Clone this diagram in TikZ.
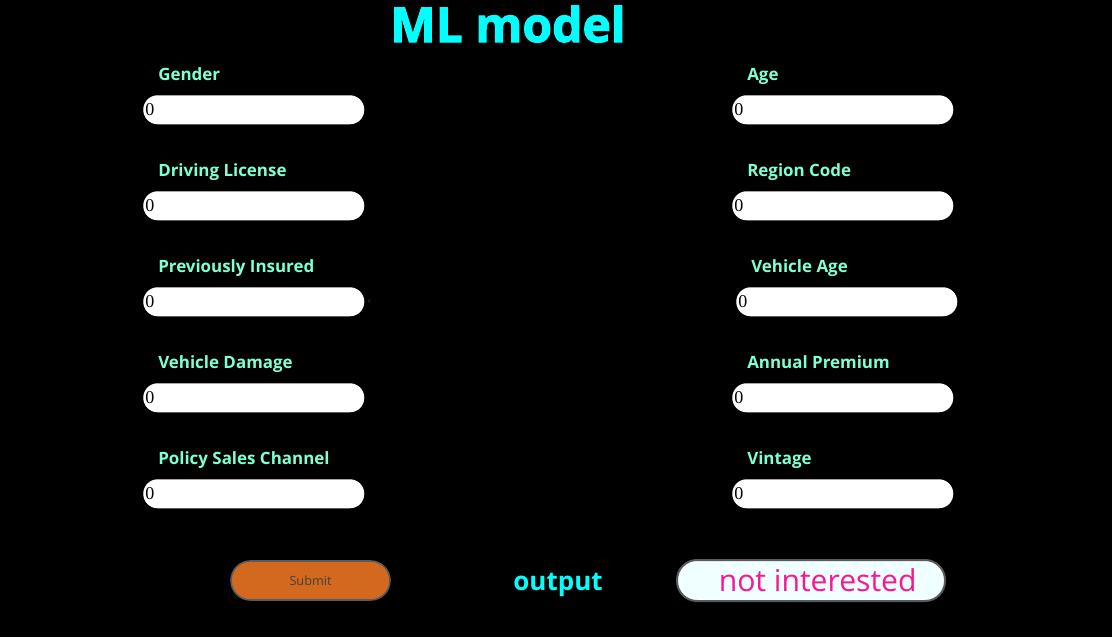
\documentclass[tikz,border=0pt]{standalone}
\usepackage{fontspec}
\setmainfont{Open Sans}
\newfontfamily\serifzero{Liberation Serif}
\newfontfamily\pesado[BoldFeatures={FakeBold=2.2}]{Open Sans}
\usetikzlibrary{positioning}

\definecolor{ciano}{RGB}{0,255,255}
\definecolor{aquamarinha}{RGB}{127,255,212}
\definecolor{chocolate}{RGB}{210,105,30}
\definecolor{azure}{RGB}{240,255,255}
\definecolor{rosa}{RGB}{255,20,147}
\definecolor{borda}{RGB}{90,90,90}

\tikzset{
  rotulo/.style={text=aquamarinha, font=\bfseries\fontsize{12.7}{15}\selectfont, anchor=base west, inner sep=0pt},
  campo/.style={fill=white, rounded corners=10.8pt, minimum width=165.75pt, minimum height=21.75pt, inner sep=0pt, anchor=north west},
  zero/.style={font=\serifzero\fontsize{13.5}{15}\selectfont, text=black, inner sep=0pt, anchor=west},
}

\begin{document}
\begin{tikzpicture}[x=0.75pt, y=-0.75pt] %Escala em pixels
  \fill[black] (0,0) rectangle (1112,637); %Fundo
  \useasboundingbox (0,0) rectangle (1112,637);

  \node[text=ciano, font=\pesado\bfseries\fontsize{36}{42}\selectfont, inner sep=0pt, anchor=base] (titulo) at (508,42) {ML model}; %Titulo

  %Coluna esquerda
  \node[rotulo] (lgender) at (158,80) {Gender};
  \node[campo] (fgender) at (143,95) {};
  \node[zero, right=1.5pt of fgender.west] (zgender) {0};

  \node[rotulo] (llicense) at (158,176) {Driving License};
  \node[campo] (flicense) at (143,191) {};
  \node[zero, right=1.5pt of flicense.west] (zlicense) {0};

  \node[rotulo] (linsured) at (158,272) {Previously Insured};
  \node[campo] (finsured) at (143,287) {};
  \node[zero, right=1.5pt of finsured.west] (zinsured) {0};
  \node[text=borda, font=\fontsize{4.5}{5}\selectfont, inner sep=0pt, right=2pt of finsured.east] (seta) {<};

  \node[rotulo] (ldamage) at (158,368) {Vehicle Damage};
  \node[campo] (fdamage) at (143,383) {};
  \node[zero, right=1.5pt of fdamage.west] (zdamage) {0};

  \node[rotulo] (lchannel) at (158,464) {Policy Sales Channel};
  \node[campo] (fchannel) at (143,479) {};
  \node[zero, right=1.5pt of fchannel.west] (zchannel) {0};

  %Coluna direita
  \node[rotulo] (lage) at (747,80) {Age};
  \node[campo] (fage) at (732,95) {};
  \node[zero, right=1.5pt of fage.west] (zage) {0};

  \node[rotulo] (lregion) at (747,176) {Region Code};
  \node[campo] (fregion) at (732,191) {};
  \node[zero, right=1.5pt of fregion.west] (zregion) {0};

  \node[rotulo] (lvage) at (751,272) {Vehicle Age};
  \node[campo] (fvage) at (736,287) {};
  \node[zero, right=1.5pt of fvage.west] (zvage) {0};

  \node[rotulo] (lpremium) at (747,368) {Annual Premium};
  \node[campo] (fpremium) at (732,383) {};
  \node[zero, right=1.5pt of fpremium.west] (zpremium) {0};

  \node[rotulo] (lvintage) at (747,464) {Vintage};
  \node[campo] (fvintage) at (732,479) {};
  \node[zero, right=1.5pt of fvintage.west] (zvintage) {0};

  %Botao e saida
  \node[fill=chocolate, draw=borda, line width=1.2pt, rounded corners=14.6pt, minimum width=119.25pt, minimum height=29.25pt, text=black!75, font=\fontsize{9.5}{11}\selectfont] (submit) at (310.5,580.5) {Submit};
  \node[text=ciano, font=\bfseries\fontsize{19.5}{22}\selectfont, inner sep=0pt, anchor=base] (output) at (558,590) {output};
  \node[fill=azure, draw=borda, line width=1.5pt, rounded corners=15pt, minimum width=201pt, minimum height=30.75pt, text=rosa, font=\fontsize{22.6}{26}\selectfont] (resultado) at (811,580.5) {\hspace{10pt}not interested};
\end{tikzpicture}
\end{document}
